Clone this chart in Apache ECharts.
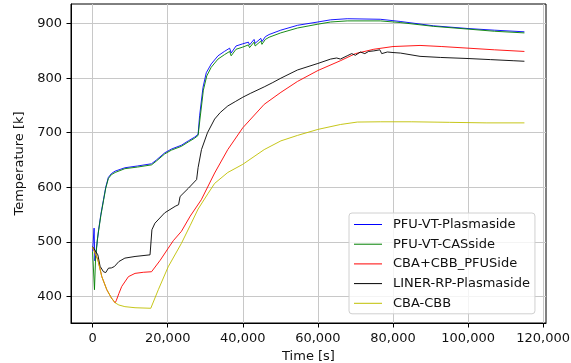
<!DOCTYPE html>
<html>
<head>
<meta charset="utf-8">
<script src="https://cdn.jsdelivr.net/npm/echarts@6/dist/echarts.min.js"></script>
<style>html,body{margin:0;padding:0;background:#fff}#c{width:571px;height:363px}</style>
</head>
<body>
<div id="c"></div>
<script>
// ---- data ----
const seriesNames = ['PFU-VT-Plasmaside', 'PFU-VT-CASside', 'CBA+CBB_PFUSide', 'LINER-RP-Plasmaside', 'CBA-CBB'];

const tBlue = [0, 400, 600, 900, 1300, 1600, 2200, 2900, 3500, 4200, 5000, 6000, 8600, 12000, 15700, 17000, 19200, 21000, 23650, 25500, 27200, 28100, 28500, 29400, 30280, 31600, 33400, 35100, 36500, 36900, 38200, 40000, 41500, 41800, 43000, 43300, 44800, 45100, 46000, 47000, 50100, 54600, 60000, 63400, 67800, 76600, 81900, 90800, 100000, 107000, 115000];
const vBlue = [482, 525, 465, 480, 505, 522, 550, 577, 600, 618, 625, 629.5, 635.7, 639, 643, 650, 663, 670, 677, 685, 692, 697, 731, 783, 810, 826, 841, 849, 855, 846, 859, 863, 866, 861, 871, 864, 873, 867, 876, 880, 888, 897, 903, 907, 909, 908, 904, 896, 891, 888, 885];

const tGreen = [0, 300, 500, 800, 1300, 1600, 2200, 2900, 3500, 4200, 5000, 6000, 8600, 12000, 15700, 17000, 19200, 21000, 23650, 25500, 27200, 28100, 28600, 29500, 30400, 31600, 33400, 35100, 36500, 36900, 38200, 40000, 41500, 41800, 43000, 43300, 44800, 45100, 46000, 47000, 50100, 54600, 60000, 63400, 67800, 76600, 81900, 90800, 100000, 107000, 115000];
const vGreen = [482, 485, 412, 470, 505, 520, 548, 575, 598, 616, 623, 627, 634, 637, 641, 648, 661, 668, 675, 683, 690, 695, 725, 778, 804, 820, 835, 843, 849, 841, 853, 857, 861, 856, 866, 859, 868, 862, 871, 875, 883, 892, 899, 903, 905, 905, 902, 895, 890, 886, 883];

const tRed = [0, 530, 1400, 2460, 3790, 5000, 6000, 6300, 7000, 7760, 9540, 11300, 13500, 15700, 18000, 20130, 21500, 23650, 26000, 28950, 32500, 36000, 40000, 45700, 50150, 54570, 60000, 66000, 70000, 74900, 80000, 87200, 93000, 100000, 107000, 115000];
const vRed = [490, 488, 467, 436, 412, 397, 388, 392, 405, 418, 436, 442, 444, 445, 466, 488, 502, 519, 547, 577, 626, 669, 709, 752, 774, 794, 814, 832, 845, 853, 858, 860, 858, 855, 852, 849];

const tBlack = [0, 530, 1400, 2000, 2900, 3500, 4240, 5000, 5800, 6250, 7000, 8600, 11300, 15300, 15800, 16600, 19200, 22000, 22900, 23300, 25500, 27700, 28100, 29000, 30600, 32500, 34000, 36000, 38000, 40000, 42000, 45700, 48000, 50150, 54570, 60000, 63400, 65000, 66000, 67800, 69000, 70000, 71300, 72500, 73500, 74900, 76500, 77000, 78500, 80000, 82000, 87200, 92600, 100000, 106000, 112000, 115000];
const vBlack = [491, 489, 476, 455, 445, 443.5, 451.6, 452, 454.5, 455, 463.7, 470, 473, 476, 522, 534, 553, 565, 568, 583, 598, 614, 636, 669, 700, 725, 737, 749, 757, 765, 772, 784, 792, 800, 815, 827, 835, 837, 835, 841, 845, 842, 848, 845, 849, 850, 852, 845, 848, 847, 846, 840, 838, 836, 834, 832, 831];

const tYellow = [0, 530, 1400, 2460, 3790, 5000, 6000, 7000, 8600, 11300, 15500, 17500, 20130, 23650, 26000, 28100, 30700, 32500, 36000, 40000, 45700, 50150, 54570, 60000, 66000, 70500, 76600, 85000, 95000, 105000, 115000];
const vYellow = [490, 488, 467, 436, 412, 397, 388, 384, 381, 379, 378, 412, 454, 497, 530, 560, 588, 607, 627, 642, 669, 685, 695, 706, 715, 719.5, 720, 720, 719, 718, 718];

const xTicks = [0, 20000, 40000, 60000, 80000, 100000, 120000];
const yTicks = [400, 500, 600, 700, 800, 900];

// ---- chart ----
function pairs(t, v) { return t.map((x, i) => [x, v[i]]); }
const colors = ['#0000ff', '#008000', '#ff0000', '#000000', '#bfbf00'];
const datasets = [pairs(tBlue, vBlue), pairs(tGreen, vGreen), pairs(tRed, vRed), pairs(tBlack, vBlack), pairs(tYellow, vYellow)];

const font = 'DejaVu Sans';
const chart = echarts.init(document.getElementById('c'), null, { renderer: 'canvas' });
chart.setOption({
  animation: false,
  backgroundColor: '#fff',
  grid: { left: 71, right: 25, top: 4, bottom: 40, outerBoundsMode: 'none', containLabel: false,
    show: true, borderColor: '#000', borderWidth: 1, backgroundColor: 'transparent' },
  xAxis: {
    type: 'value', min: -5750, max: 120750,
    name: 'Time [s]', nameLocation: 'middle', nameGap: 26,
    nameTextStyle: { fontFamily: font, fontSize: 13, color: '#111' },
    axisLine: { show: true, onZero: false, lineStyle: { color: '#000', width: 1 } },
    axisTick: { show: true, customValues: xTicks, length: 4.5, lineStyle: { color: '#000' } },
    axisLabel: { customValues: xTicks, margin: 9, fontFamily: font, fontSize: 13, color: '#111',
      formatter: v => v.toLocaleString('en-US') },
    splitLine: { show: true, lineStyle: { color: '#c8c8c8', width: 1 } }
  },
  yAxis: {
    type: 'value', min: 351, max: 936,
    name: 'Temperature [k]', nameLocation: 'middle', nameGap: 33,
    nameTextStyle: { fontFamily: font, fontSize: 13, color: '#111' },
    axisLine: { show: true, onZero: false, lineStyle: { color: '#000', width: 1 } },
    axisTick: { show: true, customValues: yTicks, length: 4.5, lineStyle: { color: '#000' } },
    axisLabel: { customValues: yTicks, margin: 9, fontFamily: font, fontSize: 13, color: '#111' },
    splitLine: { show: true, lineStyle: { color: '#c8c8c8', width: 1 } }
  },
  legend: {
    orient: 'vertical', left: 349, top: 213,
    itemWidth: 28, itemHeight: 13, itemGap: 6.7,
    icon: 'path://M0,0 L28,0 L28,1 L0,1 Z',
    padding: [5, 5, 4, 5],
    backgroundColor: 'rgba(255,255,255,0.8)', borderColor: '#d0d0d0', borderWidth: 1, borderRadius: 3,
    textStyle: { fontFamily: font, fontSize: 13, color: '#111', lineHeight: 13, padding: [0, 0, 0, 6] },
    data: seriesNames
  },
  series: seriesNames.map((n, i) => ({
    name: n, type: 'line', data: datasets[i], showSymbol: false, symbol: 'none',
    lineStyle: { color: colors[i], width: 0.9 }, itemStyle: { color: colors[i] }
  }))
});
</script>
</body>
</html>
